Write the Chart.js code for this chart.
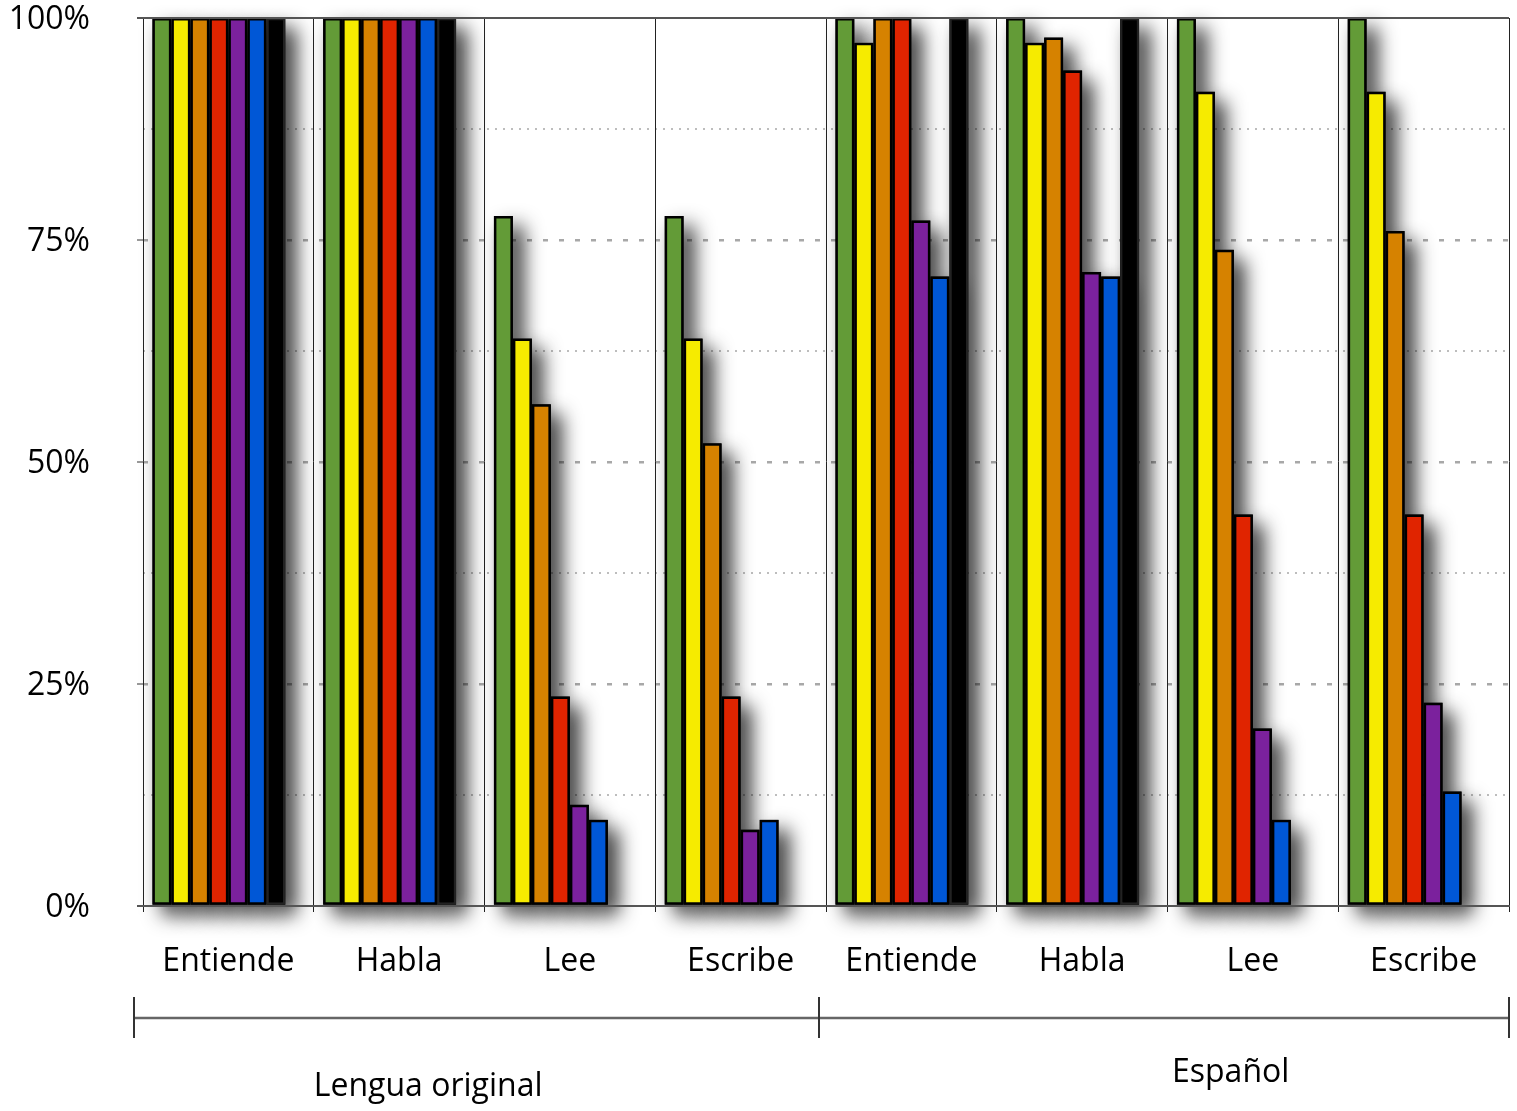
<!DOCTYPE html>
<html><head><meta charset="utf-8">
<script src="https://cdn.jsdelivr.net/npm/chart.js@4.4.1/dist/chart.umd.min.js"></script>
<style>html,body{margin:0;padding:0;background:#fff;}</style>
</head><body>
<canvas id="c" width="1517" height="1111"></canvas>
<script>
const categories = ['Entiende','Habla','Lee','Escribe','Entiende','Habla','Lee','Escribe'];
const groupLabels = ['Lengua original','Español'];
const yTickValues = [0,25,50,75,100];
const serie1 = [100,100,77.7,77.7,100,100,100,100];
const serie2 = [100,100,63.9,63.9,97.2,97.2,91.7,91.7];
const serie3 = [100,100,56.5,52.1,100,97.8,73.9,76.0];
const serie4 = [100,100,23.6,23.6,100,94.1,44.1,44.1];
const serie5 = [100,100,11.4,8.6,77.2,71.4,20.0,22.9];
const serie6 = [100,100,9.7,9.7,70.9,70.9,9.7,12.9];
const serie7 = [100,100,null,null,100,100,null,null];
const seriesNames = ['Serie 1','Serie 2','Serie 3','Serie 4','Serie 5','Serie 6','Serie 7'];
const seriesValues = [serie1,serie2,serie3,serie4,serie5,serie6,serie7];
const seriesColors = ['#639B37','#F6EB00','#D68200','#E02400','#7B219D','#0057D6','#000000'];

const FONT = {family:'"Open Sans", sans-serif', size:32};

const datasets = seriesValues.map((vals,i)=>({
  label: seriesNames[i],
  data: vals,
  backgroundColor: seriesColors[i],
  borderColor: i===6 ? '#222' : '#000',
  borderWidth: 2.5,
  borderSkipped: false,
  categoryPercentage: 0.89,
  barPercentage: 1,
  clip: false,
  xAxisID: 'x', yAxisID: 'y'
}));
// empty slot so bars sit toward the left of each category
datasets.push({label:'', data: categories.map(()=>null), backgroundColor:'rgba(0,0,0,0)', categoryPercentage:0.89, barPercentage:1, xAxisID:'x', yAxisID:'y'});

const shadowPlugin = {
  id:'barShadow',
  beforeDatasetsDraw(chart){
    const c = chart.ctx;
    c.save();
    c.shadowColor = 'rgba(0,0,0,0.85)';
    c.shadowBlur = 20;
    c.shadowOffsetX = 10;
    c.shadowOffsetY = 10;
    c.fillStyle = '#000';
    chart.getSortedVisibleDatasetMetas().forEach(meta=>{
      meta.data.forEach(el=>{
        const p = el.getProps(['x','y','base','width'], true);
        if (!isFinite(p.y) || !isFinite(p.x)) return;
        const top = Math.min(p.y, p.base), h = Math.abs(p.base - p.y);
        if (h <= 0) return;
        c.fillRect(p.x - p.width/2, top, p.width, h);
      });
    });
    c.restore();
  }
};

const groupPlugin = {
  id:'groups',
  afterDraw(chart){
    const c = chart.ctx, ca = chart.chartArea;
    const w = (ca.right - ca.left)/categories.length;
    const yLine = ca.bottom + 112;
    const xs = [ca.left - 9, ca.left + 4*w - 7, ca.right];
    c.save();
    c.strokeStyle = '#666'; c.lineWidth = 2.5;
    c.beginPath(); c.moveTo(xs[0], yLine); c.lineTo(xs[2], yLine); c.stroke();
    c.strokeStyle = '#333'; c.lineWidth = 2;
    xs.forEach(x=>{ c.beginPath(); c.moveTo(x, yLine-21); c.lineTo(x, yLine+20); c.stroke(); });
    c.fillStyle = '#000';
    c.font = '32px "Open Sans", sans-serif';
    c.textAlign = 'center'; c.textBaseline = 'middle';
    c.fillText(groupLabels[0], ca.left + 1.67*w, ca.bottom + 181);
    c.fillText(groupLabels[1], ca.left + 6.37*w, ca.bottom + 167);
    c.restore();
  }
};

new Chart(document.getElementById('c'), {
  type:'bar',
  data:{ labels: categories, datasets },
  plugins:[shadowPlugin, groupPlugin],
  options:{
    responsive:false,
    devicePixelRatio:1,
    animation:false,
    layout:{ padding:{ top:18, right:8, left:0, bottom:0 } },
    plugins:{ legend:{display:false}, tooltip:{enabled:false} },
    scales:{
      x:{
        type:'category', offset:true, position:'bottom',
        grid:{ offset:true, color:'#222', lineWidth:1, tickLength:6, drawOnChartArea:true, z:1 },
        border:{ color:'#555', width:2, z:1 },
        ticks:{ font:FONT, color:'#000', padding:31, maxRotation:0, autoSkip:false },
        afterFit(s){ s.height = 205; }
      },
      y:{
        min:0, max:100, position:'left', weight:10,
        afterBuildTicks(s){ s.ticks = yTickValues.map(v=>({value:v})); },
        ticks:{ callback:v=>v+'%', padding:0, labelOffset:2, font:{family:FONT.family, size:32, lineHeight:1}, color:'#000' },
        grid:{
          color: ctx => (ctx.tick && (ctx.tick.value===0 || ctx.tick.value===100)) ? 'rgba(0,0,0,0)' : '#a8a8a8',
          tickColor: 'rgba(0,0,0,0)',
          lineWidth:2.5, tickLength:53
        },
        border:{ display:false, dash:[5,11] },
        afterFit(s){ s.width = 143; }
      },
      y2:{
        min:0, max:100, position:'left', display:true, weight:0,
        ticks:{ display:false, stepSize:12.5, padding:0 },
        grid:{
          color: ctx => (ctx.tick && ctx.tick.value % 25 === 0) ? 'rgba(0,0,0,0)' : '#bdbdbd',
          tickColor: ctx => (ctx.tick && ctx.tick.value % 25 === 0 && ctx.tick.value % 100 !== 0) ? '#999' : 'rgba(0,0,0,0)',
          lineWidth:2, drawTicks:true, tickLength:6, tickWidth:2
        },
        border:{ display:false, dash:[2,6] },
        afterFit(s){ s.width = 0; }
      },
      y3:{
        min:0, max:100, position:'left', display:true, weight:0,
        afterBuildTicks(s){ s.ticks = [{value:0},{value:100}]; },
        ticks:{ display:false, padding:0 },
        grid:{ color:'#555', lineWidth:2, drawTicks:true, tickLength:6, tickColor:'#555', z:1 },
        border:{ display:false },
        afterFit(s){ s.width = 0; }
      }
    }
  }
});
</script>
</body></html>
